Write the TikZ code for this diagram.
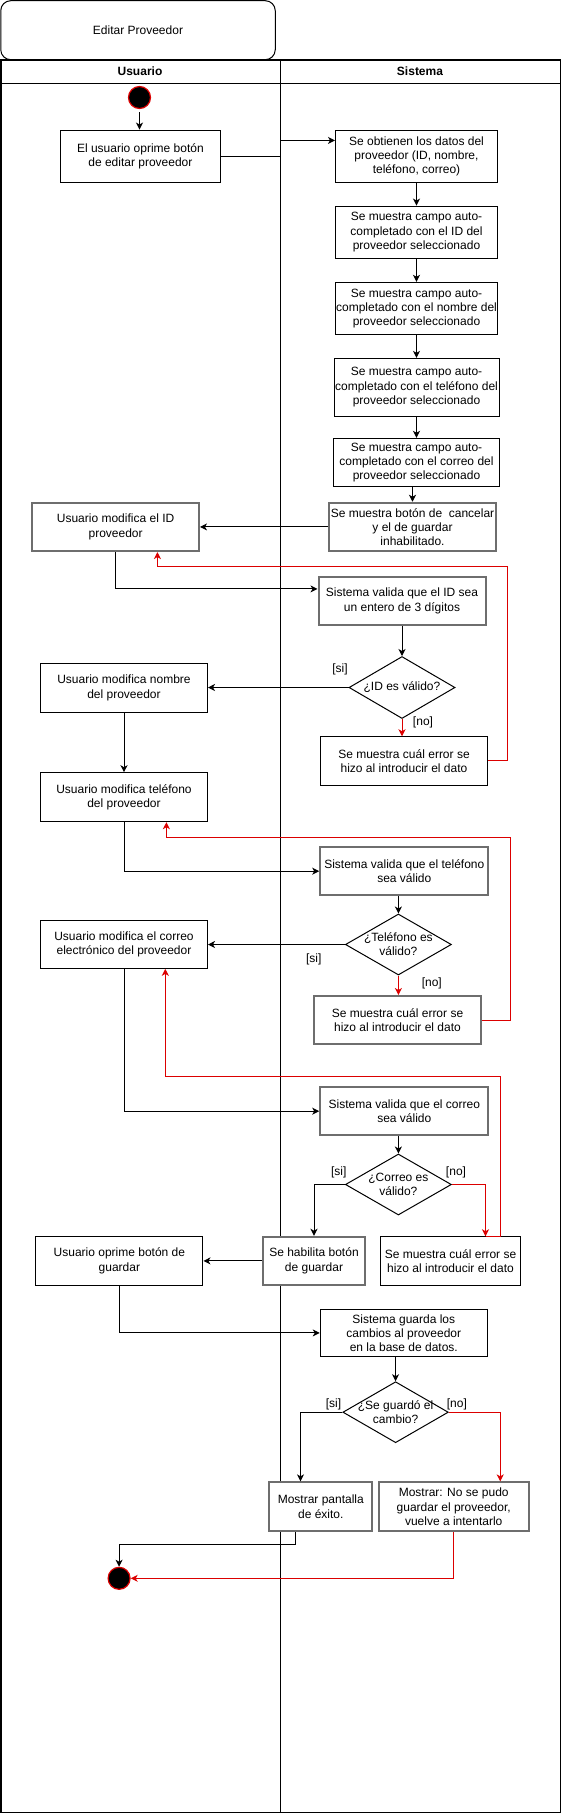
\documentclass[tikz,border=0pt]{standalone}
\usepackage{fontspec}
\setmainfont{Liberation Sans}
\usetikzlibrary{shapes.geometric,arrows.meta}
\definecolor{flowred}{RGB}{220,0,0}
\definecolor{boxgray}{RGB}{110,110,110}
\begin{document}
\begin{tikzpicture}[x=1pt, y=-1pt,
    font=\fontsize{12}{14.2}\selectfont,
    >={Stealth[length=7pt,width=7pt,inset=2pt]},
    act/.style={draw, rectangle, line width=1pt, align=center, inner sep=1pt, minimum width=167pt, minimum height=48.3pt, fill=white},
    actg/.style={act, draw=boxgray, line width=2pt},
    decision/.style={draw, diamond, line width=1pt, inner sep=0pt, minimum width=106pt, minimum height=61pt, fill=white},
    dtext/.style={align=center, inner sep=0pt},
    guard/.style={inner sep=0pt},
    lanehead/.style={font=\fontsize{12}{14.2}\selectfont\bfseries},
    flow/.style={->, line width=1pt},
    back/.style={->, line width=1pt, draw=flowred},
    startdot/.style={circle, fill=black, draw=flowred, line width=1.2pt, minimum size=22pt, inner sep=0pt}]
    \useasboundingbox (0,0) rectangle (561,1813);

    % Title and pool
    \node[draw, rounded corners=10pt, line width=1pt, minimum width=274.5pt, minimum height=59pt] (title) at (138,30.2) {Editar Proveedor};
    \draw[line width=1.5pt] (0.75,60) rectangle (560.25,1812.25);
    \draw[line width=1pt] (0.75,83) -- (560.25,83);
    \draw[line width=1pt] (280,60) -- (280,1812.25);
    \node[lanehead] (lane1) at (140,71.5) {Usuario};
    \node[lanehead] (lane2) at (420,71.5) {Sistema};

    % Start and loading of data
    \node[startdot] (start) at (139.5,97.5) {};
    \node[act, minimum width=160.7pt, minimum height=52.7pt] (u1) at (140.4,156.4) {El usuario oprime botón\\de editar proveedor};
    \node[act, minimum width=162pt, minimum height=52.7pt] (s1) at (416.5,156.4) {Se obtienen los datos del\\proveedor (ID, nombre,\\teléfono, correo)};
    \node[act, minimum width=162pt, minimum height=52.3pt] (s2) at (416.5,232.2) {Se muestra campo auto-\\completado con el ID del\\proveedor seleccionado};
    \node[act, minimum width=162pt, minimum height=52pt] (s3) at (416.5,308.3) {Se muestra campo auto-\\completado con el nombre del\\proveedor seleccionado};
    \node[act, minimum width=165pt, minimum height=57.7pt] (s4) at (416.5,387.2) {Se muestra campo auto-\\completado con el teléfono del\\proveedor seleccionado};
    \node[act, minimum width=166.5pt, minimum height=48.4pt] (s5) at (416.5,462.5) {Se muestra campo auto-\\completado con el correo del\\proveedor seleccionado};
    \node[actg] (s6) at (412.5,526.9) {Se muestra botón de\ \ cancelar\\y el de guardar\\inhabilitado.};

    % ID
    \node[actg, minimum width=166.8pt] (u2) at (115.6,526.9) {Usuario modifica el ID\\proveedor};
    \node[actg] (v1) at (402,600.9) {Sistema valida que el ID sea\\un entero de 3 dígitos};
    \node[decision, minimum height=62pt] (d1) at (402,687.5) {};
    \node[dtext] (d1t) at (d1) {¿ID es válido?};
    \node[act, minimum height=49pt] (u3) at (124,687.8) {Usuario modifica nombre\\del proveedor};
    \node[act, minimum width=167.5pt] (e1) at (404,760.9) {Se muestra cuál error se\\hizo al introducir el dato};
    \node[guard] (d1si) at (340,669) {[si]};
    \node[guard] (d1no) at (423,722.3) {[no]};

    % Telefono
    \node[act, minimum height=49pt] (u4) at (124,797.2) {Usuario modifica teléfono\\del proveedor};
    \node[actg, minimum width=168.2pt, minimum height=47.7pt] (v2) at (404.3,871.2) {Sistema valida que el teléfono\\sea válido};
    \node[decision] (d2) at (398.4,944.5) {};
    \node[dtext] (d2t) at (d2) {¿Teléfono es\\válido?};
    \node[act] (u5) at (124,944.2) {Usuario modifica el correo\\electrónico del proveedor};
    \node[actg, minimum width=167.4pt, minimum height=48pt] (e2) at (397.5,1020) {Se muestra cuál error se\\hizo al introducir el dato};
    \node[guard] (d2si) at (313.8,959.3) {[si]};
    \node[guard] (d2no) at (431.8,983.3) {[no]};

    % Correo
    \node[actg, minimum width=168.2pt, minimum height=47.7pt] (v3) at (404.3,1111.2) {Sistema valida que el correo\\sea válido};
    \node[decision] (d3) at (398.4,1184.5) {};
    \node[dtext] (d3t) at (d3) {¿Correo es\\válido?};
    \node[actg, minimum width=102pt] (h1) at (314,1260.9) {Se habilita botón\\de guardar};
    \node[act, minimum width=140.3pt] (e3) at (450.5,1260.9) {Se muestra cuál error se\\hizo al introducir el dato};
    \node[act, minimum width=167.1pt] (u6) at (119.4,1260.9) {Usuario oprime botón de\\guardar};
    \node[guard] (d3si) at (338.8,1172.7) {[si]};
    \node[guard] (d3no) at (456,1172.7) {[no]};

    % Guardar
    \node[act, minimum width=167.1pt, minimum height=47.7pt] (g1) at (403.8,1332.9) {Sistema guarda los\\cambios al proveedor\\en la base de datos.};
    \node[decision, minimum width=105.5pt] (d4) at (395.6,1412.2) {};
    \node[dtext] (d4t) at (d4) {¿Se guardó el\\cambio?};
    \node[actg, minimum width=102.7pt, minimum height=48.7pt] (k1) at (320.8,1506.7) {Mostrar pantalla\\de éxito.};
    \node[actg, minimum width=150.3pt, minimum height=48.7pt] (k2) at (453.7,1506.7) {Mostrar: No se pudo\\guardar el proveedor,\\vuelve a intentarlo};
    \node[guard] (d4si) at (333.5,1404) {[si]};
    \node[guard] (d4no) at (456.9,1404) {[no]};
    \node[startdot] (finish) at (119.1,1578.3) {};

    % Flow
    \draw[flow, shorten <=3pt] (start) -- (start |- u1.north);
    \draw[flow] (u1.east) -- ++(59.3,0) |- ([yshift=16pt]s1.west);
    \foreach \a/\b in {s1/s2,s2/s3,s3/s4,s4/s5} {
        \draw[flow] (\a) -- (\b);
    }
    \draw[flow] (s5.south -| s6.north) -- (s6.north);
    \draw[flow] (s6.west) -- (u2.east);
    \draw[flow] (u2.south) |- ([yshift=12pt]v1.west);
    \draw[flow] (v1) -- (d1);
    \draw[flow] (d1.west) -- (d1.west -| u3.east);
    \draw[back] (d1.south) -- (d1.south |- e1.north);
    \draw[back] (e1.east) -| ++(19.6,-194.3) -| ([xshift=41.8pt]u2.south);
    \draw[flow] (u3) -- (u4);
    \draw[flow] (u4.south) |- (v2.west);
    \draw[flow] (v2.south -| d2.north) -- (d2.north);
    \draw[flow] (d2.west) -- (d2.west -| u5.east);
    \draw[back] (d2.south) -- (d2.south |- e2.north);
    \draw[back] (e2.east) -| ++(28.6,-182.7) -| ([xshift=42.4pt]u4.south);
    \draw[flow] (u5.south) |- (v3.west);
    \draw[flow] (v3.south -| d3.north) -- (d3.north);
    \draw[flow] (d3.west) -| (h1.north);
    \draw[back] (d3.east) -| ([xshift=35pt]e3.north);
    \draw[back] ([xshift=35pt]e3.north) -- ([xshift=49.7pt]e3.north) -- ++(0,-159.4) -| ([xshift=41.3pt]u5.south);
    \draw[flow] (h1.west) -- (u6.east);
    \draw[flow] (u6.south) |- (g1.west);
    \draw[flow] (g1.south -| d4.north) -- (d4.north);
    \draw[flow] (d4.west) -| ([xshift=-20.3pt]k1.north);
    \draw[back] (d4.east) -| ([xshift=46.5pt]k2.north);
    \draw[flow] ([xshift=-25.3pt]k1.south) -- ++(0,12.3) -| (finish.north);
    \draw[back] (k2.south) |- (finish.east);
\end{tikzpicture}
\end{document}
